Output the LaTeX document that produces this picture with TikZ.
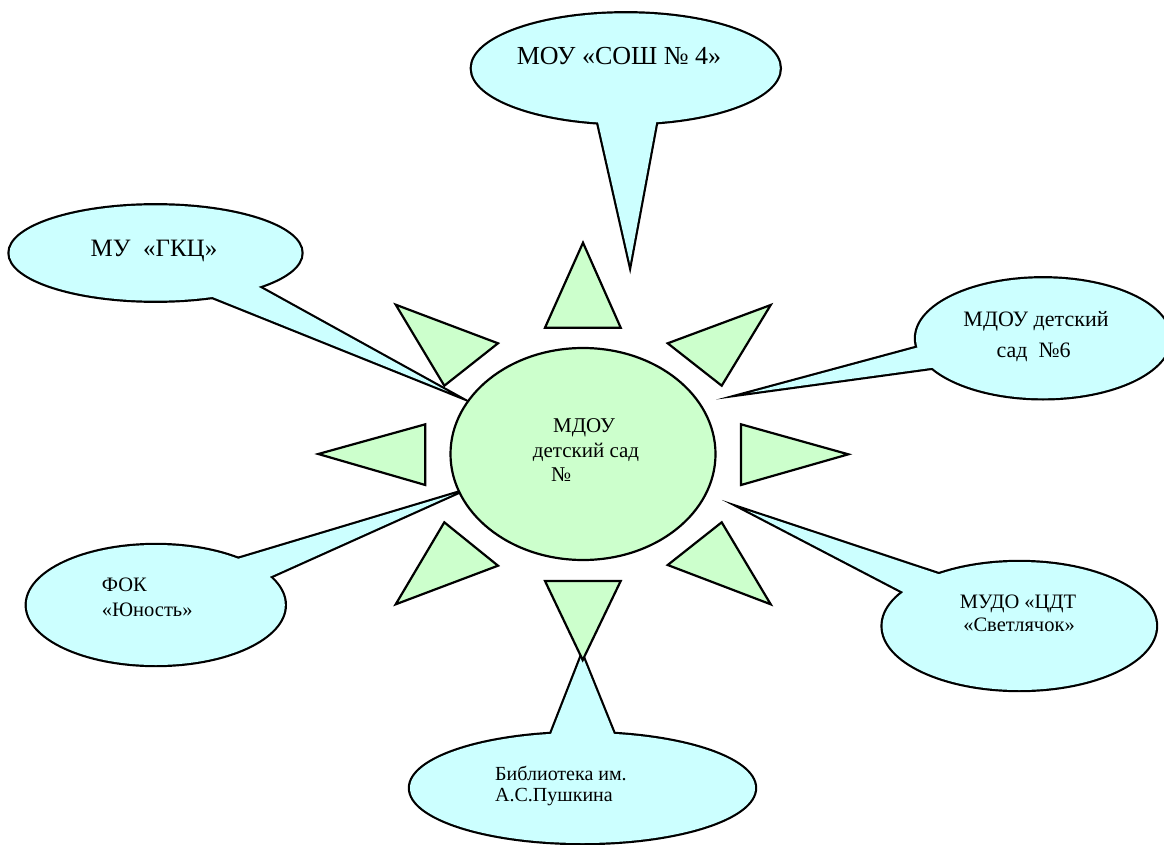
\documentclass[tikz,border=0pt]{standalone}
\usepackage{fontspec}
\setmainfont{Liberation Serif}
\newfontfamily\timesru{Liberation Serif}
\usetikzlibrary{calc}
\definecolor{callfill}{HTML}{CCFFFF}
\definecolor{sunfill}{HTML}{CCFFCC}
\newcommand{\mycallout}[7]{%
  \coordinate (#1c) at (#2);
  \coordinate (#1t) at (#7);
  \coordinate (#1ja) at (#5);
  \coordinate (#1jb) at (#6);
  \coordinate (#1ba) at ($(#1ja)!-14pt!(#1t)$);
  \coordinate (#1bb) at ($(#1jb)!-14pt!(#1t)$);
  \draw[calloutline] (#1c) ellipse [x radius=#3, y radius=#4];
  \draw[calloutline] (#1ba) -- (#1t) -- (#1bb) -- cycle;
  \fill[callfill] (#1c) ellipse [x radius=#3, y radius=#4];
  \fill[callfill] (#1ba) -- (#1t) -- (#1bb) -- cycle;
}
\begin{document}
\begin{tikzpicture}[x=1pt,y=-1pt,
  calloutline/.style={draw=black,line width=4.4pt,line join=miter,miter limit=20},
  ray/.style={fill=sunfill,draw=black,line width=2.2pt,line join=miter},
  txt/.style={inner sep=0pt,anchor=base,text=black}]
\clip (0,0) rectangle (1164,845);
\fill[white] (0,0) rectangle (1164,845);

% callouts
\mycallout{sosh}{625.8,68.3}{154}{55}{598.3,123.3}{656,123.3}{630,263.3}
\mycallout{gkc}{155.5,253}{146}{47.7}{213.3,297.3}{259.3,287.3}{448.3,391.7}
\mycallout{ds}{1043,338.3}{127}{60}{918.3,347.3}{940,366.7}{750,392.7}
\mycallout{fok}{155.8,605}{129}{60}{240,558.3}{270,576.7}{453.3,494.3}
\mycallout{cdt}{1019.3,626}{136.7}{64}{936,573.3}{902.7,591.7}{747.3,510.7}
\mycallout{lib}{582.5,788}{172.5}{55}{550,736.7}{615,736.7}{582,655}

% sun rays
\draw[ray] (583,242.7) -- (545,327.7) -- (620.7,327.7) -- cycle;
\draw[ray] (582.7,660) -- (545,581) -- (620.7,581) -- cycle;
\draw[ray] (318.3,454) -- (425.3,424.3) -- (425.3,485) -- cycle;
\draw[ray] (848.3,454.3) -- (741,424.3) -- (741,485) -- cycle;
\draw[ray] (395.7,304.7) -- (498,343.3) -- (444.3,385.7) -- cycle;
\draw[ray] (770.7,305) -- (667.7,343.3) -- (721.7,385.7) -- cycle;
\draw[ray] (444.3,522.3) -- (498,565.7) -- (395.7,604.3) -- cycle;
\draw[ray] (721.7,522.3) -- (667.7,565) -- (770.7,604.3) -- cycle;
% sun body
\coordinate (sunc) at (583,454);
\draw[ray] (sunc) ellipse [x radius=132.5, y radius=106];

% texts
\node[txt,font=\timesru\fontsize{21}{24}\selectfont] (sun1) at (584,432.7) {МДОУ};
\node[txt,font=\timesru\fontsize{21}{24}\selectfont] (sun2) at (586,457) {детский сад};
\node[txt,font=\timesru\fontsize{21}{24}\selectfont,anchor=base west] (sun3) at (551,481.7) {№};

\node[txt,font=\timesru\fontsize{26}{30}\selectfont] (soshtxt) at (619,65) {МОУ «СОШ № 4»};
\node[txt,font=\timesru\fontsize{25}{30}\selectfont] (gkctxt) at (154,256.7) {МУ\ \ «ГКЦ»};
\node[txt,font=\timesru\fontsize{22}{26}\selectfont] (dstxt1) at (1036,326.7) {МДОУ детский};
\node[txt,font=\timesru\fontsize{22}{26}\selectfont] (dstxt2) at (1033.5,357.3) {сад\ \ №6};
\node[txt,font=\timesru\fontsize{20.5}{24}\selectfont,anchor=base west] (foktxt1) at (101.7,591.7) {ФОК};
\node[txt,font=\timesru\fontsize{20.5}{24}\selectfont,anchor=base west] (foktxt2) at (101.7,616.7) {«Юность»};
\node[txt,font=\timesru\fontsize{20.5}{24}\selectfont] (cdttxt1) at (1018,608.3) {МУДО «ЦДТ};
\node[txt,font=\timesru\fontsize{20.5}{24}\selectfont] (cdttxt2) at (1019,631.7) {«Светлячок»};
\node[txt,font=\timesru\fontsize{20}{24}\selectfont,anchor=base west] (libtxt1) at (495,780) {Библиотека им.};
\node[txt,font=\timesru\fontsize{20}{24}\selectfont,anchor=base west] (libtxt2) at (495,801.7) {А.С.Пушкина};
\end{tikzpicture}
\end{document}
